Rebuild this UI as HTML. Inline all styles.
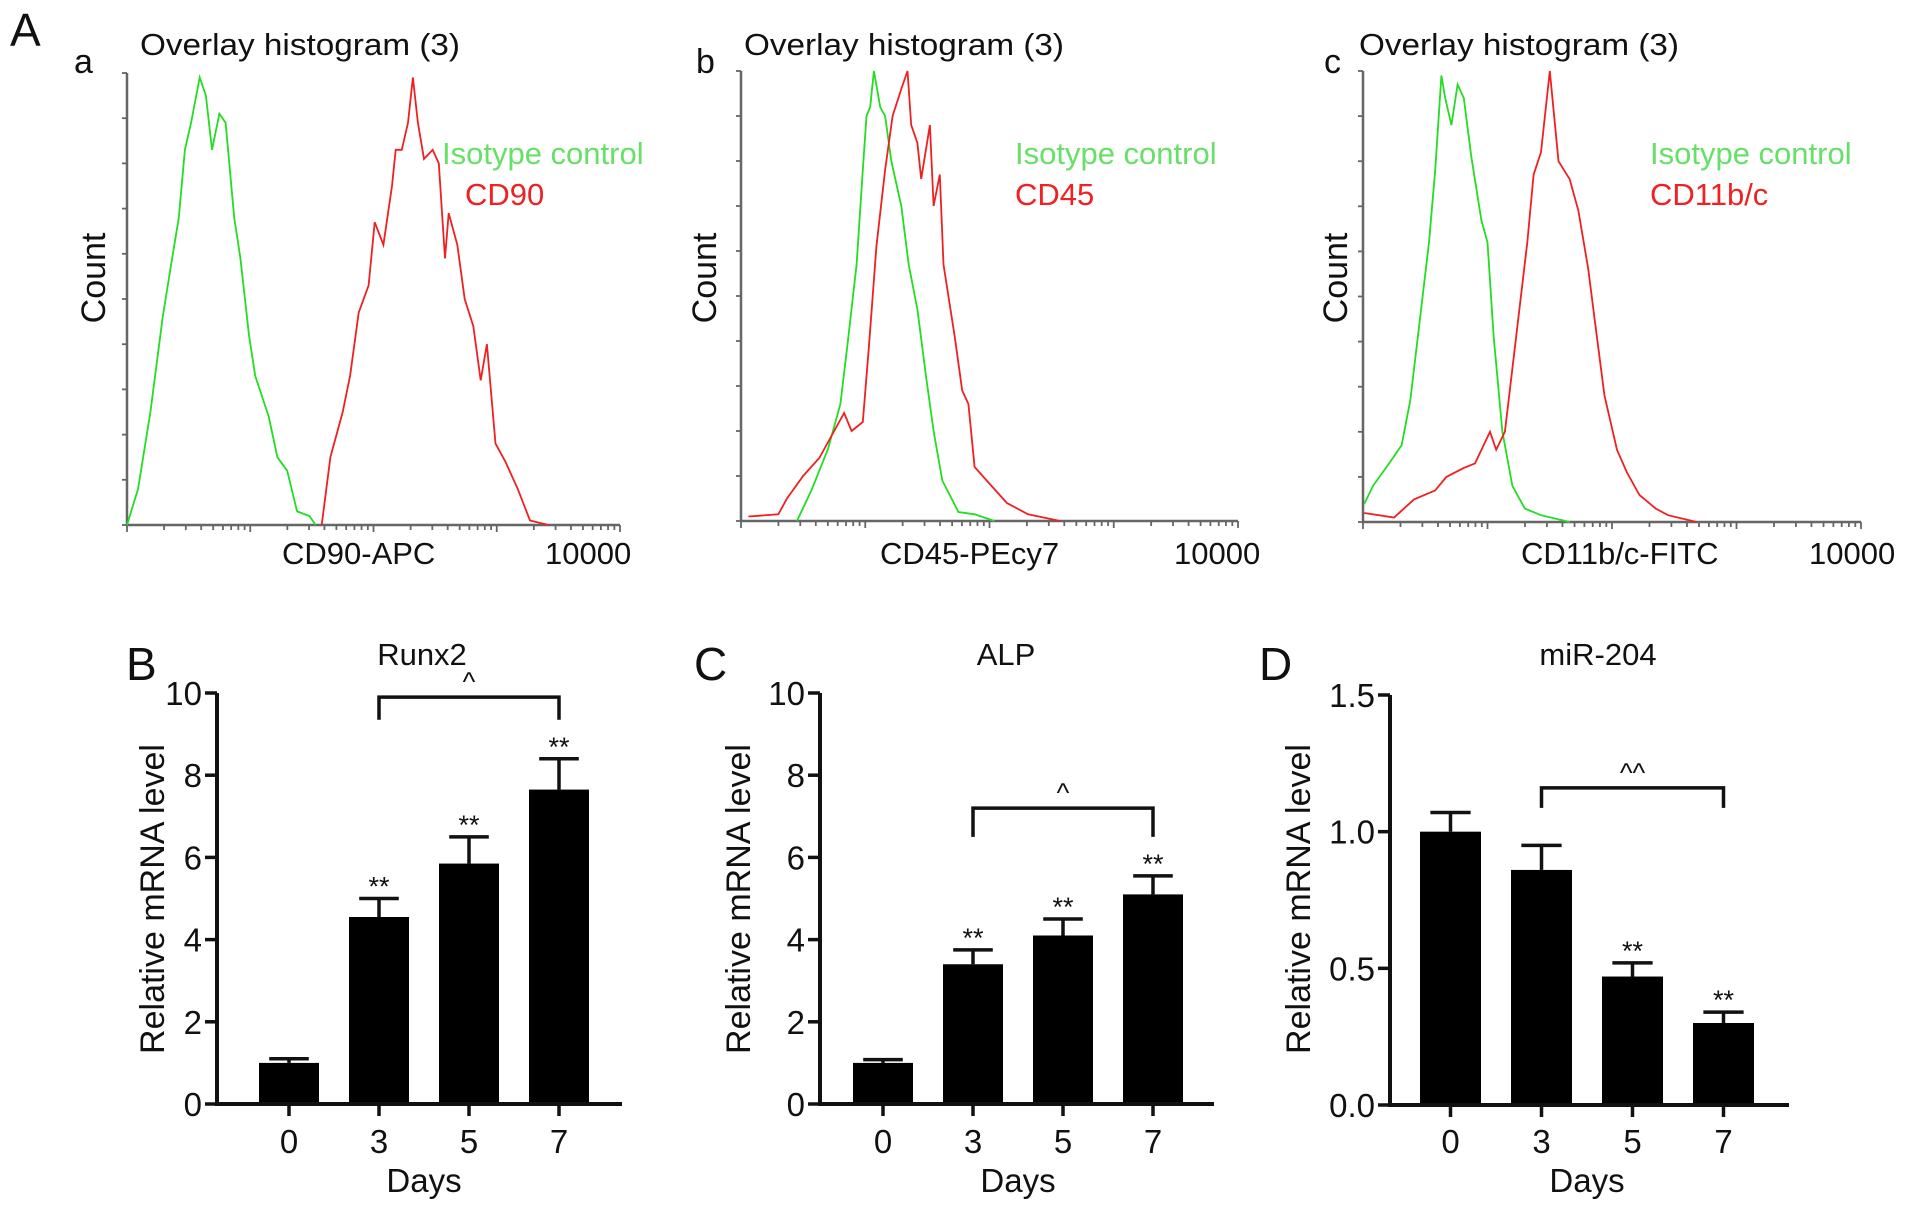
<!DOCTYPE html>
<html><head><meta charset="utf-8"><style>
html,body{margin:0;padding:0;background:#fff;}
svg{display:block;font-family:"Liberation Sans",Arial,sans-serif;}
</style></head><body>
<svg id="fig" width="1913" height="1212" viewBox="0 0 1913 1212" xmlns="http://www.w3.org/2000/svg">
<text x="10" y="46" font-size="46" fill="#111">A</text>
</svg>
<script>
// ===== Histogram data (x in log decades 0..4, count in % of max) =====
const histATitle = "CD90-APC";
const histAGreenX = [0,0.09,0.19,0.29,0.36,0.42,0.47,0.52,0.59,0.64,0.69,0.75,0.80,0.87,0.92,0.99,1.04,1.15,1.22,1.30,1.38,1.48,1.53];
const histAGreenY = [0,8,25,46,58,68,83,89,99,95,83,91,89,68,59,42,33,24,15,12,3,2,0];
const histARedX = [1.58,1.65,1.75,1.81,1.88,1.96,2.01,2.08,2.15,2.18,2.23,2.28,2.32,2.36,2.41,2.48,2.53,2.58,2.61,2.68,2.74,2.81,2.87,2.92,2.99,3.07,3.17,3.27,3.42];
const histARedY = [0,15,25,33,47,53,67,62,75,83,83,89,99,89,81,83,80,59,69,62,50,44,32,40,18,14,8,1,0];

const histBGreenX = [0.45,0.57,0.70,0.80,0.86,0.93,0.98,1.01,1.04,1.07,1.12,1.16,1.21,1.29,1.35,1.42,1.49,1.55,1.62,1.75,1.88,2.04];
const histBGreenY = [0,7,16,26,40,57,78,90,92,100,92,90,80,70,57,47,32,20,9,2,1.5,0];
const histBRedX = [0.06,0.30,0.37,0.50,0.63,0.73,0.83,0.89,0.98,1.03,1.09,1.16,1.22,1.29,1.34,1.37,1.42,1.45,1.52,1.55,1.60,1.63,1.72,1.78,1.83,1.88,2.01,2.14,2.31,2.57];
const histBRedY = [1,1.5,5,10,14,19,24,20,22,39,61,78,90,96,100,88,84,76,88,70,77,57,41,29,26,12,8,4,1.5,0];

const histCGreenX = [0.01,0.08,0.21,0.31,0.38,0.44,0.53,0.58,0.63,0.66,0.71,0.76,0.81,0.87,0.95,1.00,1.05,1.12,1.20,1.30,1.43,1.66];
const histCGreenY = [4,8,13,17,27,41,62,78,99,94,88,97,94,81,67,62,41,20,8,3,1.5,0];
const histCRedX = [0.01,0.25,0.41,0.58,0.67,0.81,0.90,1.02,1.07,1.14,1.23,1.32,1.37,1.43,1.50,1.57,1.66,1.73,1.81,1.86,1.94,2.04,2.12,2.22,2.35,2.45,2.68];
const histCRedY = [2,1,5,7,10,12,13,20,16,20,41,62,77,82,100,80,76,69,56,45,28,16,11,6,3,1.5,0];

// ===== Bar chart data =====
const dayLabels = ["0","3","5","7"];
const runx2Values = [1.0,4.55,5.85,7.65];
const runx2Errors = [0.1,0.45,0.65,0.75];
const runx2Ticks = [0,2,4,6,8,10];
const alpValues = [1.0,3.4,4.1,5.1];
const alpErrors = [0.08,0.35,0.4,0.45];
const alpTicks = [0,2,4,6,8,10];
const mirValues = [1.0,0.86,0.47,0.30];
const mirErrors = [0.07,0.09,0.05,0.04];
const mirTicks = ["0.0","0.5","1.0","1.5"];
const runx2Stars = ["","**","**","**"];
const alpStars = ["","**","**","**"];
const mirStars = ["","","**","**"];

const NS="http://www.w3.org/2000/svg";
const svg=document.getElementById('fig');
function mk(tag,attrs,parent){const e=document.createElementNS(NS,tag);for(const k in attrs)e.setAttribute(k,attrs[k]);(parent||svg).appendChild(e);return e;}
function txt(s,attrs,parent){const e=mk('text',attrs,parent);e.textContent=s;return e;}

function histogram(cfg){
  const g=mk('g',{});
  
  
  const x0=cfg.x0,x1=cfg.x1,yT=cfg.yTop,yB=cfg.yBot;
  const xs=v=>x0+(v/4)*(x1-x0);
  const ys=v=>yB-(v/100)*(yB-yT);
  const ax=mk('path',{d:`M${x0} ${yT} L${x0} ${yB} L${x1} ${yB}`,stroke:'#666','stroke-width':2.5,fill:'none'},g);
  
  
  for(let i=0;i<=10;i++){const y=ys(i*10);mk('line',{x1:x0-5,x2:x0,y1:y,y2:y,stroke:'#666','stroke-width':1.8},g);}
  for(let d=0;d<4;d++){for(let m=1;m<=9;m++){const x=xs(d+Math.log10(m));mk('line',{x1:x,x2:x,y1:yB,y2:yB+(m===1?7:5),stroke:'#666','stroke-width':1.8},g);}}
  mk('line',{x1:x1,x2:x1,y1:yB,y2:yB+7,stroke:'#666','stroke-width':1.8},g);
  const line=(X,Y,col,nm)=>{let d='';X.forEach((v,i)=>{d+=(i?'L':'M')+xs(v).toFixed(1)+' '+ys(Y[i]).toFixed(1)+' ';});
    const p=mk('path',{d:d,stroke:col,'stroke-width':1.8,fill:'none'},g);
    
    };
  line(cfg.gx,cfg.gy,'#22dd22','isotype-control-curve');
  line(cfg.rx,cfg.ry,'#ee2020','marker-curve');
  const t=txt('Overlay histogram (3)',{x:cfg.titleX,y:55,'font-size':31,fill:'#111',textLength:320,lengthAdjust:'spacingAndGlyphs'},g);
  
  
  const l=txt(cfg.letter,{x:cfg.letterX,y:73,'font-size':34,fill:'#111'},g);
  
  
  const c=txt('Count',{x:0,y:0,'font-size':34,fill:'#111','text-anchor':'middle',transform:`translate(${cfg.countX+12},278) rotate(-90)`},g);
  
  
  const lg=txt('Isotype control',{x:cfg.legX,y:164,'font-size':31,fill:'#66e066'},g);
  
  
  const lr=txt(cfg.marker,{x:cfg.legX+cfg.markerDx,y:205,'font-size':31,fill:'#ee2222'},g);
  
  
  const xt=txt(cfg.xlabel,{x:cfg.xlabelX,y:564,'font-size':31,fill:'#111'},g);
  
  
  const xm=txt('10000',{x:cfg.maxX,y:564,'font-size':31,fill:'#111'},g);
  
  
}
histogram({name:'histogram-cd90',x0:127,x1:620,yTop:73,yBot:525,gx:histAGreenX,gy:histAGreenY,rx:histARedX,ry:histARedY,titleX:140,letter:'a',letterX:74,countX:93,legX:442,marker:'CD90',markerDx:23,xlabel:histATitle,xlabelX:282,maxX:545});
histogram({name:'histogram-cd45',x0:741,x1:1238,yTop:71,yBot:521,gx:histBGreenX,gy:histBGreenY,rx:histBRedX,ry:histBRedY,titleX:744,letter:'b',letterX:696,countX:704,legX:1015,marker:'CD45',markerDx:0,xlabel:'CD45-PEcy7',xlabelX:880,maxX:1174});
histogram({name:'histogram-cd11bc',x0:1363,x1:1861,yTop:71,yBot:522,gx:histCGreenX,gy:histCGreenY,rx:histCRedX,ry:histCRedY,titleX:1359,letter:'c',letterX:1324,countX:1335,legX:1650,marker:'CD11b/c',markerDx:0,xlabel:'CD11b/c-FITC',xlabelX:1521,maxX:1809});

function barChart(cfg){
  const g=mk('g',{});
  
  
  const ax=cfg.axisX,yT=cfg.yTop,yB=cfg.yBot,ymax=cfg.ymax;
  const ys=v=>yB-(v/ymax)*(yB-yT);
  const xc=i=>cfg.firstBar+cfg.barW/2+i*cfg.step;
  cfg.ticks.forEach(t=>{const y=ys(parseFloat(t));
    mk('line',{x1:ax-12,x2:ax,y1:y,y2:y,stroke:'#111','stroke-width':3.5},g);
    const tl=txt(String(t),{x:ax-15,y:y+12,'font-size':33,fill:'#111','text-anchor':'end'},g);
    
    });
  cfg.values.forEach((v,i)=>{
    const x=xc(i);
    const top=ys(v+cfg.errors[i]);
    mk('line',{x1:x,x2:x,y1:ys(v),y2:top,stroke:'#111','stroke-width':3.5},g);
    mk('line',{x1:x-cfg.barW*0.33,x2:x+cfg.barW*0.33,y1:top,y2:top,stroke:'#111','stroke-width':3.5},g);
    const r=mk('rect',{x:x-cfg.barW/2,y:ys(v),width:cfg.barW,height:yB-ys(v),fill:'#000'},g);
    
    
    if(cfg.stars[i]){const s=txt(cfg.stars[i],{x:x,y:top-3,'font-size':27,fill:'#111','text-anchor':'middle'},g);
      
      }
    mk('line',{x1:x,x2:x,y1:yB,y2:yB+12,stroke:'#111','stroke-width':3.5},g);
    const tl=txt(cfg.labels[i],{x:x,y:1153,'font-size':33,fill:'#111','text-anchor':'middle'},g);
    
    
  });
  const axes=mk('path',{d:`M${ax} ${yT} L${ax} ${yB} L${cfg.axisEnd} ${yB}`,stroke:'#111','stroke-width':4,fill:'none'},g);
  
  
  const bx1=xc(cfg.br[0]),bx2=xc(cfg.br[1]),by=ys(cfg.br[2]),bl=ys(cfg.br[3]);
  const b=mk('path',{d:`M${bx1} ${bl} L${bx1} ${by} L${bx2} ${by} L${bx2} ${bl}`,stroke:'#111','stroke-width':3.5,fill:'none'},g);
  
  
  const bt=txt(cfg.brLabel,{x:(bx1+bx2)/2,y:by-6,'font-size':27,fill:'#111','text-anchor':'middle'},g);
  
  
  const title=txt(cfg.title,{x:cfg.titleX,y:665,'font-size':31,fill:'#111','text-anchor':'middle'},g);
  
  
  const L=txt(cfg.letter,{x:cfg.letterX,y:680,'font-size':46,fill:'#111'},g);
  
  
  const yl=txt('Relative mRNA level',{x:0,y:0,'font-size':34,fill:'#111','text-anchor':'middle',transform:`translate(${cfg.ylabX+12},899) rotate(-90)`},g);
  
  
  const xl=txt('Days',{x:(xc(0)+xc(3))/2,y:1192,'font-size':33,fill:'#111','text-anchor':'middle'},g);
  
  
}
barChart({name:'chart-runx2',axisX:217,yTop:693,yBot:1104,ymax:10,axisEnd:622,firstBar:259,barW:60,step:90,values:runx2Values,errors:runx2Errors,ticks:runx2Ticks,labels:dayLabels,stars:runx2Stars,br:[1,3,9.9,9.35],brLabel:'^',title:'Runx2',titleX:422,letter:'B',letterX:126,ylabX:152});
barChart({name:'chart-alp',axisX:820,yTop:693,yBot:1104,ymax:10,axisEnd:1214,firstBar:853,barW:60,step:90,values:alpValues,errors:alpErrors,ticks:alpTicks,labels:dayLabels,stars:alpStars,br:[1,3,7.2,6.5],brLabel:'^',title:'ALP',titleX:1006,letter:'C',letterX:694,ylabX:738});
barChart({name:'chart-mir204',axisX:1390,yTop:695,yBot:1105,ymax:1.5,axisEnd:1789,firstBar:1420,barW:61,step:91,values:mirValues,errors:mirErrors,ticks:mirTicks,labels:dayLabels,stars:mirStars,br:[1,3,1.16,1.087],brLabel:'^^',title:'miR-204',titleX:1598,letter:'D',letterX:1259,ylabX:1298});
</script>
</body></html>
